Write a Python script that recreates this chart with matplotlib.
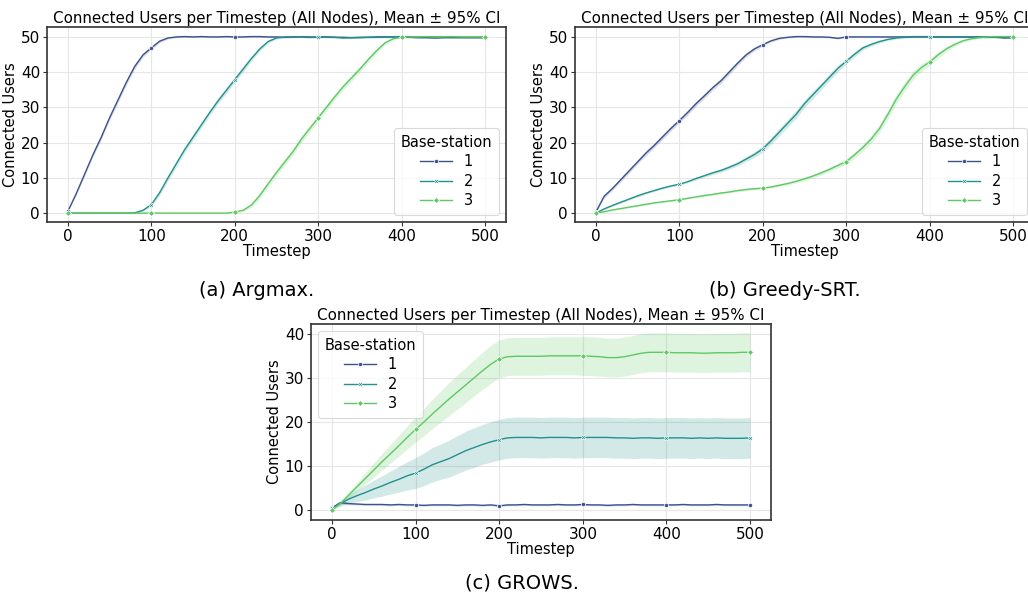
import numpy as np
import matplotlib
matplotlib.use("Agg")
import matplotlib.pyplot as plt

# ---------------- data ----------------
timesteps = list(range(0, 501, 10))
stations = ["1", "2", "3"]
colors = ["#3b528b", "#21918c", "#5ec962"]
markers = ["o", "X", "D"]

# (a) Argmax
argmax_bs1 = [0.5, 5.5, 11, 16.5, 21.5, 27, 32, 37, 41.5, 44.8, 46.8, 48.7, 49.6, 49.9, 50, 49.9, 50,
              49.9, 49.9, 50, 49.9, 49.9, 50, 50, 49.9, 49.9, 49.8, 49.9, 49.9, 49.8, 49.9, 49.9, 49.8,
              49.8, 49.7, 49.8, 49.8, 49.9, 49.9, 49.9, 49.9, 49.8, 49.7, 49.7, 49.6, 49.7, 49.7, 49.7,
              49.7, 49.7, 49.7]
argmax_bs2 = [0, 0, 0, 0, 0, 0, 0, 0, 0.1, 0.8, 2.4, 5.8, 10, 14, 18, 21.5, 25, 28.5, 31.8, 34.8, 37.8,
              40.8, 43.8, 46.5, 48.6, 49.6, 49.9, 49.9, 50, 49.9, 49.8, 49.9, 49.8, 49.6, 49.7, 49.7,
              49.8, 49.8, 49.9, 49.9, 49.9, 49.9, 49.9, 49.9, 49.9, 49.9, 49.9, 49.8, 49.8, 49.8, 49.8]
argmax_bs3 = [0, 0, 0, 0, 0, 0, 0, 0, 0, 0, 0, 0, 0, 0, 0, 0, 0, 0, 0, 0, 0.3, 0.8, 2.3, 5, 8.3, 11.5,
              14.5, 17.5, 21, 24, 27, 30, 33, 35.8, 38.3, 40.8, 43.5, 46, 48.2, 49.4, 49.8, 49.9, 49.9,
              50, 49.9, 49.9, 50, 49.9, 49.9, 49.9, 49.9]
argmax_ci1 = [0.1, 0.4, 0.5, 0.6, 0.6, 0.7, 0.7, 0.7, 0.7, 0.6, 0.5, 0.4, 0.3, 0.2, 0.2, 0.2, 0.2, 0.2,
              0.2, 0.2, 0.2, 0.2, 0.2, 0.2, 0.2, 0.2, 0.2, 0.2, 0.2, 0.2, 0.2, 0.2, 0.2, 0.2, 0.2, 0.2,
              0.2, 0.2, 0.2, 0.2, 0.2, 0.2, 0.2, 0.2, 0.2, 0.2, 0.2, 0.2, 0.2, 0.2, 0.2]
argmax_ci2 = [0, 0, 0, 0, 0, 0, 0, 0, 0.1, 0.3, 0.5, 0.7, 0.8, 0.8, 0.8, 0.8, 0.8, 0.8, 0.8, 0.8, 0.8,
              0.8, 0.7, 0.6, 0.4, 0.3, 0.2, 0.2, 0.2, 0.2, 0.2, 0.2, 0.2, 0.2, 0.2, 0.2, 0.2, 0.2, 0.2,
              0.2, 0.2, 0.2, 0.2, 0.2, 0.2, 0.2, 0.2, 0.2, 0.2, 0.2, 0.2]
argmax_ci3 = [0, 0, 0, 0, 0, 0, 0, 0, 0, 0, 0, 0, 0, 0, 0, 0, 0, 0, 0, 0, 0.2, 0.4, 0.6, 0.8, 0.9, 0.9,
              0.9, 0.9, 0.9, 0.9, 0.9, 0.9, 0.9, 0.9, 0.9, 0.8, 0.8, 0.7, 0.5, 0.3, 0.2, 0.2, 0.2, 0.2,
              0.2, 0.2, 0.2, 0.2, 0.2, 0.2, 0.2]

# (b) Greedy-SRT
greedy_bs1 = [0.3, 4.8, 7, 9.5, 12, 14.5, 17, 19.2, 21.6, 24, 26.2, 28.5, 31, 33.2, 35.5, 37.5, 40,
              42.5, 44.8, 46.5, 47.7, 48.8, 49.5, 49.8, 50, 50, 49.9, 49.9, 49.8, 49.5, 49.9, 49.9, 49.9,
              49.9, 49.9, 49.9, 49.9, 49.9, 49.9, 49.9, 49.9, 49.9, 49.9, 49.9, 49.9, 49.9, 49.9, 49.8,
              49.8, 49.6, 49.7]
greedy_bs2 = [0, 1.2, 2.2, 3.1, 4, 4.9, 5.7, 6.4, 7.1, 7.7, 8.2, 8.9, 9.8, 10.6, 11.4, 12.1, 13, 14,
              15.3, 16.6, 18.2, 20.5, 23, 25.5, 28, 31, 33.5, 36, 38.5, 41, 43, 45, 46.8, 47.8, 48.6,
              49.2, 49.6, 49.8, 50, 50, 50, 49.9, 49.9, 49.9, 49.9, 49.9, 49.9, 49.9, 49.9, 49.9, 49.9]
greedy_bs3 = [0, 0.4, 0.9, 1.3, 1.7, 2.1, 2.5, 2.9, 3.2, 3.5, 3.8, 4.2, 4.6, 5, 5.3, 5.7, 6, 6.4,
              6.7, 6.9, 7.1, 7.4, 7.9, 8.4, 9, 9.7, 10.5, 11.4, 12.4, 13.5, 14.6, 16.5, 18.6, 21,
              24, 28, 32.3, 35.8, 39, 41.2, 42.8, 44.8, 46.5, 47.8, 48.8, 49.4, 49.7, 49.9, 50, 50, 50]
greedy_ci1 = [0.2, 0.5, 0.5, 0.6, 0.6, 0.6, 0.7, 0.7, 0.7, 0.7, 0.7, 0.7, 0.7, 0.7, 0.7, 0.7, 0.7,
              0.7, 0.6, 0.5, 0.4, 0.3, 0.3, 0.2, 0.2, 0.2, 0.2, 0.2, 0.2, 0.2, 0.2, 0.2, 0.2, 0.2, 0.2,
              0.2, 0.2, 0.2, 0.2, 0.2, 0.2, 0.2, 0.2, 0.2, 0.2, 0.2, 0.2, 0.2, 0.2, 0.2, 0.2]
greedy_ci2 = [0, 0.2, 0.3, 0.3, 0.3, 0.3, 0.3, 0.3, 0.3, 0.3, 0.3, 0.3, 0.4, 0.4, 0.5, 0.5, 0.6,
              0.6, 0.7, 0.8, 0.9, 1.0, 1.1, 1.1, 1.1, 1.1, 1.1, 1.0, 1.0, 0.9, 0.8, 0.7, 0.6, 0.5, 0.4,
              0.3, 0.3, 0.2, 0.2, 0.2, 0.2, 0.2, 0.2, 0.2, 0.2, 0.2, 0.2, 0.2, 0.2, 0.2, 0.2]
greedy_ci3 = [0, 0.1, 0.2, 0.2, 0.2, 0.2, 0.2, 0.2, 0.2, 0.2, 0.2, 0.2, 0.2, 0.3, 0.3, 0.3, 0.3,
              0.3, 0.3, 0.3, 0.3, 0.3, 0.4, 0.4, 0.4, 0.5, 0.5, 0.6, 0.6, 0.7, 0.8, 0.9, 1.0, 1.1, 1.2,
              1.3, 1.3, 1.3, 1.2, 1.1, 1.0, 0.9, 0.7, 0.5, 0.4, 0.3, 0.2, 0.2, 0.2, 0.2, 0.2]

# (c) GROWS
grows_bs1 = [0.5, 1.7, 1.5, 1.4, 1.3, 1.3, 1.3, 1.2, 1.3, 1.2, 1.2, 1.1, 1.2, 1.2, 1.2, 1.1, 1.2,
             1.2, 1.1, 1.2, 1.0, 1.2, 1.2, 1.3, 1.2, 1.2, 1.2, 1.3, 1.2, 1.2, 1.3, 1.2, 1.2, 1.1, 1.2,
             1.2, 1.3, 1.2, 1.2, 1.2, 1.2, 1.2, 1.3, 1.2, 1.2, 1.2, 1.3, 1.2, 1.2, 1.2, 1.2]
grows_bs2 = [0.5, 1.5, 2.5, 3.3, 4, 4.8, 5.5, 6.3, 7, 7.8, 8.4, 9.3, 10.3, 11, 11.7, 12.6, 13.5,
             14.2, 14.9, 15.5, 16.0, 16.4, 16.5, 16.5, 16.5, 16.4, 16.5, 16.5, 16.5, 16.4, 16.5, 16.5,
             16.5, 16.5, 16.4, 16.4, 16.3, 16.4, 16.4, 16.3, 16.4, 16.4, 16.4, 16.3, 16.4, 16.3, 16.4,
             16.3, 16.3, 16.3, 16.4]
grows_bs3 = [0, 1.5, 3.4, 5.3, 7.2, 9.1, 11, 12.8, 14.6, 16.5, 18.3, 20, 21.8, 23.5, 25.2, 26.8,
             28.4, 30, 31.6, 33.1, 34.3, 34.8, 34.9, 34.9, 34.9, 34.9, 35, 35, 35, 35, 35, 34.9, 34.8,
             34.6, 34.6, 34.8, 35.2, 35.6, 35.8, 35.8, 35.8, 35.7, 35.7, 35.7, 35.6, 35.6, 35.7, 35.7,
             35.7, 35.8, 35.8]
grows_ci1 = [0.2, 0.3, 0.3, 0.2, 0.2, 0.2, 0.2, 0.2, 0.2, 0.2, 0.2, 0.2, 0.2, 0.2, 0.2, 0.2, 0.2,
             0.2, 0.2, 0.2, 0.2, 0.2, 0.2, 0.2, 0.2, 0.2, 0.2, 0.2, 0.2, 0.2, 0.2, 0.2, 0.2, 0.2, 0.2,
             0.2, 0.2, 0.2, 0.2, 0.2, 0.2, 0.2, 0.2, 0.2, 0.2, 0.2, 0.2, 0.2, 0.2, 0.2, 0.2]
grows_ci2 = [0.2, 0.6, 1.0, 1.3, 1.7, 2.0, 2.3, 2.6, 2.9, 3.2, 3.5, 3.7, 3.9, 4.0, 4.2, 4.3, 4.4,
             4.5, 4.5, 4.6, 4.6, 4.6, 4.6, 4.6, 4.6, 4.6, 4.6, 4.6, 4.6, 4.6, 4.6, 4.6, 4.6, 4.6, 4.6,
             4.6, 4.6, 4.6, 4.6, 4.6, 4.6, 4.6, 4.6, 4.6, 4.6, 4.6, 4.6, 4.6, 4.6, 4.6, 4.6]
grows_ci3 = [0.2, 0.4, 0.7, 1.0, 1.3, 1.6, 1.9, 2.1, 2.4, 2.6, 2.9, 3.1, 3.3, 3.5, 3.7, 3.9, 4.0,
             4.1, 4.2, 4.3, 4.3, 4.3, 4.3, 4.3, 4.3, 4.3, 4.3, 4.3, 4.3, 4.3, 4.4, 4.4, 4.4, 4.4, 4.4,
             4.4, 4.4, 4.4, 4.4, 4.4, 4.4, 4.4, 4.4, 4.4, 4.4, 4.4, 4.4, 4.4, 4.4, 4.4, 4.4]

panels = [
    ([argmax_bs1, argmax_bs2, argmax_bs3], [argmax_ci1, argmax_ci2, argmax_ci3], "(a) Argmax.", "lower right"),
    ([greedy_bs1, greedy_bs2, greedy_bs3], [greedy_ci1, greedy_ci2, greedy_ci3], "(b) Greedy-SRT.", "lower right"),
    ([grows_bs1, grows_bs2, grows_bs3], [grows_ci1, grows_ci2, grows_ci3], "(c) GROWS.", "upper left"),
]
title = "Connected Users per Timestep (All Nodes), Mean \u00b1 95% CI"

# ---------------- figure ----------------
W, H = 1028, 597
fig = plt.figure(figsize=(W / 100, H / 100), dpi=100)
plt.rcParams["font.family"] = ["DejaVu Sans"]

def box(l, t, r, b):
    return [l / W, 1 - b / H, (r - l) / W, (b - t) / H]

axes_rects = [box(47, 27, 506, 222), box(575, 27, 1034, 222), box(311, 324, 771, 520)]
caption_pos = [(257 / W, 1 - 290 / H), (785 / W, 1 - 290 / H), (522 / W, 1 - 583 / H)]

t = np.array(timesteps)
for (series, cis, caption, loc), rect, cpos in zip(panels, axes_rects, caption_pos):
    ax = fig.add_axes(rect)
    for vals, ci, col, mk, lab in zip(series, cis, colors, markers, stations):
        v = np.array(vals, dtype=float)
        c = np.array(ci, dtype=float)
        ax.fill_between(t, v - c, v + c, color=col, alpha=0.2, linewidth=0)
        ax.plot(t, v, color=col, linewidth=1.0, marker=mk, markersize=3,
                markeredgecolor="white", markeredgewidth=0.5, markevery=10, label=lab)
    ax.margins(x=0.05, y=0.05)
    ax.grid(True, color="#e6e6e6", linewidth=0.8)
    ax.set_axisbelow(True)
    for s in ax.spines.values():
        s.set_color("#333333")
        s.set_linewidth(1.2)
    ax.tick_params(labelsize=11, length=3, width=0.8, color="#333333", pad=2)
    ax.set_xticks([0, 100, 200, 300, 400, 500])
    ax.set_xlabel("Timestep", fontsize=10.5, labelpad=0)
    ax.set_ylabel("Connected Users", fontsize=10.5, labelpad=2)
    ax.set_title(title, fontsize=10.9, pad=3)
    leg = ax.legend(title="Base-station", loc=loc, fontsize=10.5, title_fontsize=10.5,
                    frameon=True, fancybox=True, borderpad=0.45, labelspacing=0.3,
                    handlelength=2.2, handletextpad=0.8, borderaxespad=0.5, markerscale=1.0)
    leg.get_frame().set_edgecolor("#d0d0d0")
    leg.get_frame().set_linewidth(0.8)
    fig.text(cpos[0], cpos[1], caption, ha="center", va="center", fontsize=14)

fig.savefig("out.png", dpi=100)
